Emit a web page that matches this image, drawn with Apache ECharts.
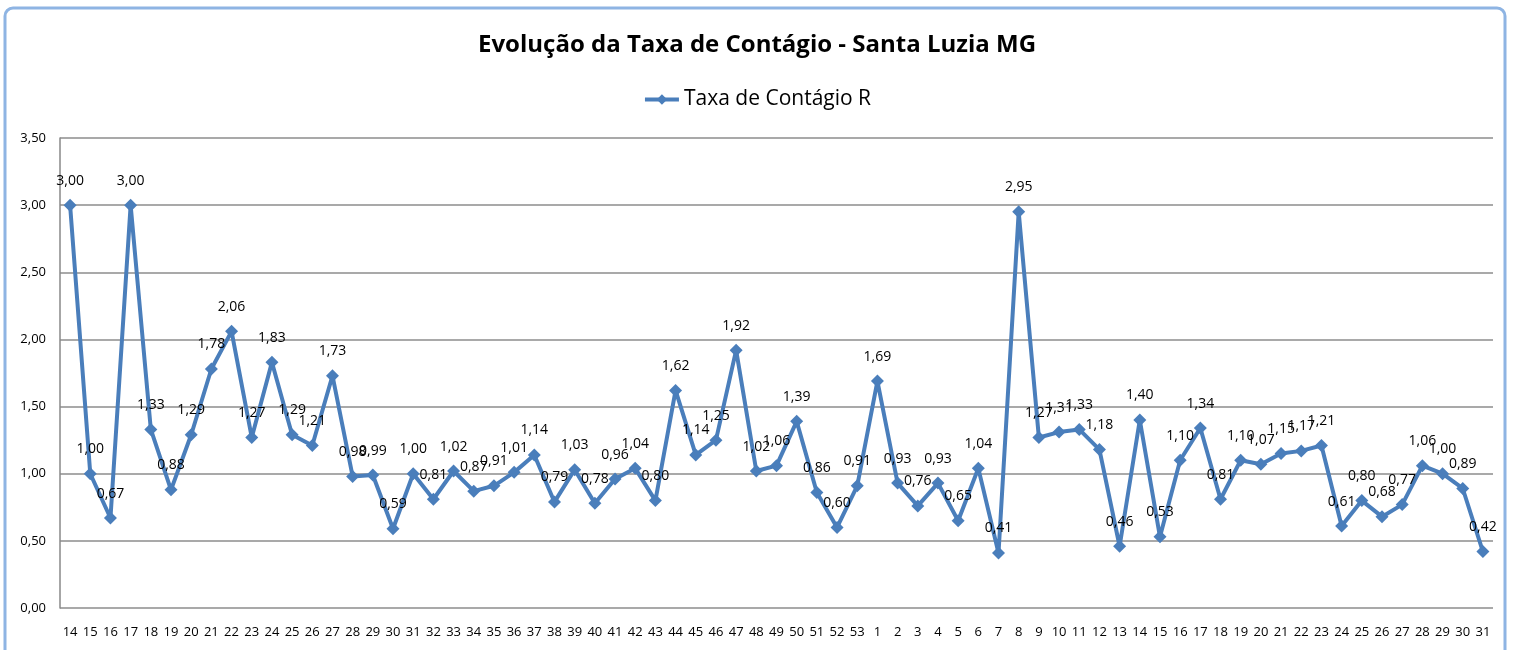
<!DOCTYPE html>
<html>
<head>
<meta charset="utf-8">
<script src="https://cdn.jsdelivr.net/npm/echarts@6/dist/echarts.min.js"></script>
<style>
  html, body { margin: 0; padding: 0; background: #fff; }
  #chart { width: 1514px; height: 650px; }
</style>
</head>
<body>
<div id="chart"></div>
<script>
// semanas epidemiológicas (2020: 14..53, 2021: 1..31)
const weeks = [
  '14', '15', '16', '17', '18', '19', '20', '21', '22', '23', '24', '25', '26', '27', '28', '29', '30',
  '31', '32', '33', '34', '35', '36', '37', '38', '39', '40', '41', '42', '43', '44', '45', '46', '47',
  '48', '49', '50', '51', '52', '53',
  '1', '2', '3', '4', '5', '6', '7', '8', '9', '10', '11', '12', '13', '14', '15', '16', '17', '18',
  '19', '20', '21', '22', '23', '24', '25', '26', '27', '28', '29', '30', '31'
];
const taxaR = [
  3.00, 1.00, 0.67, 3.00, 1.33, 0.88, 1.29, 1.78, 2.06, 1.27, 1.83, 1.29, 1.21, 1.73, 0.98, 0.99, 0.59,
  1.00, 0.81, 1.02, 0.87, 0.91, 1.01, 1.14, 0.79, 1.03, 0.78, 0.96, 1.04, 0.80, 1.62, 1.14, 1.25, 1.92,
  1.02, 1.06, 1.39, 0.86, 0.60, 0.91,
  1.69, 0.93, 0.76, 0.93, 0.65, 1.04, 0.41, 2.95, 1.27, 1.31, 1.33, 1.18, 0.46, 1.40, 0.53, 1.10, 1.34, 0.81,
  1.10, 1.07, 1.15, 1.17, 1.21, 0.61, 0.80, 0.68, 0.77, 1.06, 1.00, 0.89, 0.42
];

const fmt = (v) => v.toFixed(2).replace('.', ',');
const font = "'Open Sans', sans-serif";
const blue = '#4a7ebb';

const myChart = echarts.init(document.getElementById('chart'));
myChart.setOption({
  animation: false,
  textStyle: { fontFamily: font },
  title: {
    text: 'Evolução da Taxa de Contágio - Santa Luzia MG',
    left: 'center',
    top: 28,
    textStyle: { fontSize: 24, fontWeight: 'bold', color: '#000', fontFamily: font },
  },
  legend: {
    data: ['Taxa de Contágio R'],
    top: 84,
    left: 'center',
    itemWidth: 34,
    itemHeight: 13,
    itemGap: 4,
    lineStyle: { width: 4 },
    textStyle: { fontSize: 21, color: '#000', fontFamily: font },
  },
  graphic: [{
    type: 'rect',
    shape: { x: 5, y: 8, width: 1500, height: 680, r: 8 },
    style: { fill: 'none', stroke: '#8eb4e3', lineWidth: 3 },
    silent: true,
  }],
  grid: { left: 60, right: 21, top: 138, bottom: 42 },
  xAxis: {
    type: 'category',
    data: weeks,
    boundaryGap: true,
    axisLine: { show: false },
    axisTick: { show: false },
    axisLabel: { color: '#000', fontSize: 13, interval: 0, margin: 18, fontFamily: font },
  },
  yAxis: {
    type: 'value',
    min: 0,
    max: 3.5,
    interval: 0.5,
    axisLine: { show: true, lineStyle: { color: '#888', width: 1.5 } },
    axisTick: { show: false },
    axisLabel: { color: '#000', fontSize: 13, margin: 14, formatter: fmt, fontFamily: font },
    splitLine: { lineStyle: { color: '#8c8c8c', width: 1.5 } },
  },
  series: [{
    name: 'Taxa de Contágio R',
    type: 'line',
    data: taxaR,
    symbol: 'diamond',
    symbolSize: 13,
    lineStyle: { color: blue, width: 4 },
    itemStyle: { color: blue },
    label: {
      show: true,
      position: 'top',
      distance: 11,
      color: '#000',
      fontSize: 14,
      fontFamily: font,
      formatter: (p) => fmt(p.value),
    },
    labelLayout: { hideOverlap: false },
  }],
});
</script>
</body>
</html>
